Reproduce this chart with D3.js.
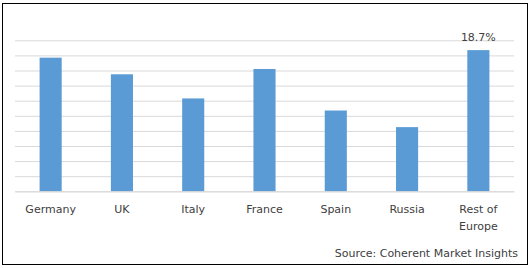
<!DOCTYPE html>
<html><head><meta charset="utf-8">
<script src="https://cdnjs.cloudflare.com/ajax/libs/d3/7.8.5/d3.min.js"></script>
<style>html,body{margin:0;padding:0;background:#fff;}svg{display:block;}</style>
</head><body>
<svg id="chart" width="531" height="268"></svg>
<script>
const categories = ["Germany", "UK", "Italy", "France", "Spain", "Russia", "Rest of Europe"];
const values = [17.7, 15.5, 12.3, 16.2, 10.7, 8.5, 18.7];
const yTicks = [0, 2, 4, 6, 8, 10, 12, 14, 16, 18, 20];
const labelledIndex = [6];
const labelTexts = ["18.7%"];
const sourceText = "Source: Coherent Market Insights";

const svg = d3.select("#chart");
const font = "'DejaVu Sans', sans-serif";

svg.append("rect").attr("x", 2.5).attr("y", 3.5).attr("width", 525).attr("height", 261)
  .attr("fill", "#fff").attr("stroke", "#000").attr("stroke-width", 1);

const x = d3.scaleBand().domain(categories).range([15, 514]).paddingInner(0.69).paddingOuter(0.345);
const y = d3.scaleLinear().domain([0, 20]).range([191.3, 40.3]);

const grid = svg.append("g").attr("transform", "translate(0,0)")
  .call(d3.axisLeft(y).tickValues(yTicks).tickSize(-(514 - 15)).tickFormat(""))
  .attr("transform", "translate(15,0)");
grid.select(".domain").remove();
grid.selectAll(".tick line").attr("stroke", "#d9d9d9").attr("stroke-width", 1);

svg.append("g").selectAll("rect").data(values).join("rect")
  .attr("x", (d, i) => x(categories[i]))
  .attr("width", x.bandwidth())
  .attr("y", d => y(d))
  .attr("height", d => y(0) - y(d))
  .attr("fill", "#5b9bd5");

const xa = svg.append("g").attr("transform", `translate(0,${y(0)})`)
  .call(d3.axisBottom(x).tickSize(0).tickPadding(0).tickFormat(""));
xa.select(".domain").attr("stroke", "#d9d9d9");

const lab = svg.append("g");
categories.forEach((c, i) => {
  const words = c === "Rest of Europe" ? ["Rest of", "Europe"] : [c];
  const t = lab.append("text").attr("x", x(c) + x.bandwidth() / 2).attr("y", 213)
    .attr("text-anchor", "middle").attr("font-family", font).attr("font-size", 11).attr("fill", "#404040");
  words.forEach((w, j) => t.append("tspan").attr("x", x(c) + x.bandwidth() / 2).attr("dy", j ? 17 : 0).text(w));
});

labelledIndex.forEach((idx, k) => {
  svg.append("text").attr("x", x(categories[idx]) + x.bandwidth() / 2).attr("y", y(values[idx]) - 9)
    .attr("text-anchor", "middle").attr("font-family", font).attr("font-size", 11).attr("fill", "#404040")
    .text(labelTexts[k]);
});

svg.append("text").attr("x", 518).attr("y", 257).attr("text-anchor", "end")
  .attr("font-family", font).attr("font-size", 11).attr("fill", "#404040").text(sourceText);
</script>
</body></html>
